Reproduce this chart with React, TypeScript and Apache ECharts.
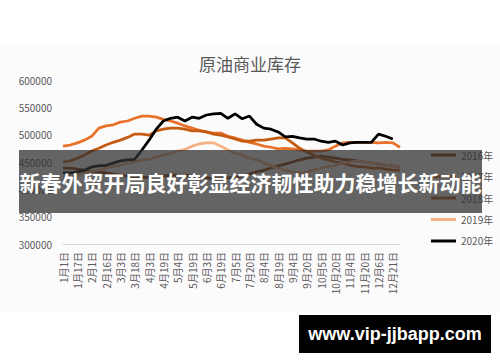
import React, { useEffect, useRef } from "react";
import * as echarts from "echarts";

const categories = [
  "1月1日", "1月9日", "1月17日", "1月24日", "2月1日", "2月8日", "2月16日", "2月24日",
  "3月3日", "3月10日", "3月18日", "3月26日", "4月3日", "4月11日", "4月19日", "4月26日",
  "5月4日", "5月11日", "5月19日", "5月26日", "6月3日", "6月11日", "6月19日", "6月27日",
  "7月5日", "7月12日", "7月20日", "7月28日", "8月4日", "8月11日", "8月19日", "8月27日",
  "9月4日", "9月12日", "9月20日", "9月28日", "10月5日", "10月12日", "10月20日", "10月28日",
  "11月4日", "11月12日", "11月20日", "11月28日", "12月6日", "12月14日", "12月21日", "12月29日",
];

const yTicks = { min: 300000, max: 600000, interval: 50000 };

const s2016 = [
  439000, 439000, 437000, 435000, 433000, 432000, 430000, 428000, 426000, 424000, 422000, 422000,
  422000, 424000, 424000, 426000, 426000, 426000, 424000, 422000, 421000, 419000, 419000, 421000,
  422000, 424000, 428000, 432000, 435000, 439000, 443000, 446000, 450000, 454000, 457000, 459000,
  461000, 459000, 457000, 455000, 454000, 452000, 450000, 448000, 446000, 444000, 443000, 441000,
];

const s2017 = [
  479000, 481000, 485000, 490000, 497000, 512000, 516000, 518000, 523000, 525000, 530000, 534000,
  534000, 532000, 528000, 525000, 521000, 516000, 512000, 508000, 505000, 503000, 503000, 497000,
  494000, 490000, 486000, 483000, 479000, 477000, 474000, 475000, 474000, 472000, 470000, 470000,
  470000, 472000, 479000, 485000, 486000, 486000, 486000, 486000, 485000, 486000, 485000, 477000,
];

const s2018 = [
  450000, 452000, 457000, 463000, 470000, 475000, 481000, 486000, 490000, 495000, 501000, 501000,
  499000, 507000, 510000, 512000, 512000, 510000, 507000, 507000, 505000, 501000, 499000, 496000,
  492000, 488000, 488000, 490000, 490000, 492000, 494000, 494000, 485000, 475000, 468000, 463000,
  457000, 454000, 450000, 448000, 444000, 442000, 441000, 439000, 439000, 437000, 435000, 435000,
];

const s2019 = [
  421000, 424000, 426000, 430000, 433000, 435000, 439000, 442000, 444000, 448000, 450000, 454000,
  455000, 459000, 463000, 466000, 470000, 473000, 479000, 483000, 485000, 485000, 479000, 472000,
  466000, 463000, 457000, 454000, 448000, 443000, 439000, 435000, 432000, 430000, 432000, 435000,
  439000, 442000, 444000, 448000, 450000, 452000, 450000, 448000, 446000, 444000, 443000, 441000,
];

const s2020 = [
  430000, 430000, 432000, 435000, 441000, 443000, 444000, 448000, 452000, 454000, 455000, 472000,
  490000, 510000, 525000, 530000, 532000, 525000, 532000, 530000, 536000, 538000, 539000, 530000,
  538000, 529000, 534000, 519000, 512000, 510000, 505000, 496000, 497000, 494000, 492000, 492000,
  488000, 486000, 488000, 481000, 485000, 486000, 486000, 486000, 501000, 497000, 492000, null,
];

const seriesNames = ["2016年", "2017年", "2018年", "2019年", "2020年"];
const seriesData = [s2016, s2017, s2018, s2019, s2020];
const seriesColors = ["#843C0C", "#E9722A", "#C55A11", "#F4B183", "#000000"];

const titleText = "原油商业库存";
const bannerText = "新春外贸开局良好彰显经济韧性助力稳增长新动能";
const watermarkText = "www.vip-jjbapp.com";

export default function App() {
  const ref = useRef<HTMLDivElement>(null);
  useEffect(() => {
    if (!ref.current) return;
    const chart = echarts.init(ref.current, null, { renderer: "svg" });
    const font = "'Noto Sans CJK SC', 'Noto Sans', sans-serif";
    chart.setOption({
      animation: false,
      backgroundColor: "#ffffff",
      textStyle: { fontFamily: font },
      title: {
        text: titleText,
        left: "center",
        top: 50,
        textStyle: { fontSize: 17, fontWeight: "normal", color: "#595959", fontFamily: font },
      },
      legend: {
        orient: "vertical",
        left: 426,
        top: 145,
        itemWidth: 25,
        itemHeight: 14,
        itemGap: 11.5,
        icon: "path://M0,0 L25,0 L25,3 L0,3 Z",
        data: seriesNames,
        textStyle: { fontSize: 10, color: "#595959", fontFamily: font },
      },
      grid: { left: 63, right: 100, top: 80, bottom: 118, containLabel: false },
      xAxis: {
        type: "category",
        data: categories,
        boundaryGap: false,
        axisLine: { lineStyle: { color: "#d9d9d9", width: 1 } },
        axisTick: { show: false },
        axisLabel: { interval: 1, rotate: 90, fontSize: 10, color: "#595959", margin: 8, fontFamily: font },
        splitLine: { show: false },
      },
      yAxis: {
        type: "value",
        min: yTicks.min,
        max: yTicks.max,
        interval: yTicks.interval,
        axisLine: { show: false },
        axisTick: { show: false },
        splitLine: { show: false },
        axisLabel: {
          fontSize: 10,
          color: "#595959",
          margin: 11,
          fontFamily: font,
          formatter: (v: number) => String(v),
        },
      },
      series: seriesNames.map((name, i) => ({
        name,
        type: "line",
        data: seriesData[i],
        symbol: "none",
        smooth: false,
        color: seriesColors[i],
        itemStyle: { color: seriesColors[i] },
        lineStyle: { width: 2.75, color: seriesColors[i] },
      })),
      graphic: [
        {
          type: "rect",
          z: -10,
          silent: true,
          shape: { x: 0, y: 45, width: 500, height: 268 },
          style: { fill: "#fcfbfc" },
        },
        {
          type: "rect",
          z: 100,
          shape: { x: 19, y: 150, width: 463, height: 63 },
          style: { fill: "rgba(50,50,50,0.75)" },
        },
        {
          type: "text",
          z: 101,
          x: 250.5,
          y: 182,
          style: {
            text: bannerText,
            fill: "#ffffff",
            font: "bold 21px 'Noto Sans CJK SC', sans-serif",
            textAlign: "center",
            textVerticalAlign: "middle",
          },
        },
        {
          type: "rect",
          z: 100,
          shape: { x: 299, y: 315, width: 192, height: 38 },
          style: { fill: "#000000" },
        },
        {
          type: "text",
          z: 101,
          x: 395,
          y: 334,
          style: {
            text: watermarkText,
            fill: "#ffffff",
            font: "bold 18px 'Liberation Sans', Arial, sans-serif",
            textAlign: "center",
            textVerticalAlign: "middle",
          },
        },
      ],
    });
    return () => chart.dispose();
  }, []);
  return (
    <div
      ref={ref}
      style={{ position: "fixed", left: 0, top: 0, width: 500, height: 362 }}
    />
  );
}
